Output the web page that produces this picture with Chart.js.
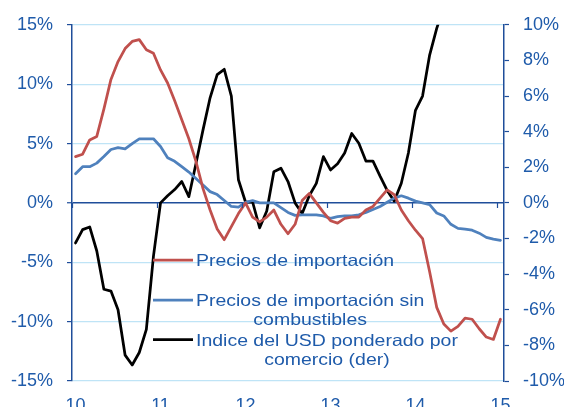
<!DOCTYPE html>
<html><head><meta charset="utf-8">
<script src="https://cdn.jsdelivr.net/npm/chart.js@4.4.0/dist/chart.umd.min.js"></script>
<style>html,body{margin:0;padding:0;background:#fff}#wrap{width:564px;height:407px;position:relative;overflow:hidden}</style>
</head><body><div id="wrap"><canvas id="c" width="564" height="407"></canvas></div>
<script>
const categories = [
 "ene-10","feb-10","mar-10","abr-10","may-10","jun-10","jul-10","ago-10","sep-10","oct-10","nov-10","dic-10",
 "ene-11","feb-11","mar-11","abr-11","may-11","jun-11","jul-11","ago-11","sep-11","oct-11","nov-11","dic-11",
 "ene-12","feb-12","mar-12","abr-12","may-12","jun-12","jul-12","ago-12","sep-12","oct-12","nov-12","dic-12",
 "ene-13","feb-13","mar-13","abr-13","may-13","jun-13","jul-13","ago-13","sep-13","oct-13","nov-13","dic-13",
 "ene-14","feb-14","mar-14","abr-14","may-14","jun-14","jul-14","ago-14","sep-14","oct-14","nov-14","dic-14",
 "ene-15"];
const yearLabels = ["10","11","12","13","14","15"];

const importPrices = [
 3.9, 4.1, 5.3, 5.6, 7.9, 10.4, 11.9, 13.0, 13.6, 13.75, 12.9, 12.6,
 11.2, 10.1, 8.6, 7.0, 5.4, 3.5, 1.2, -0.6, -2.2, -3.1, -2.0, -0.9,
 0.0, -1.2, -1.6, -1.2, -0.6, -1.8, -2.6, -1.8, 0.2, 0.8, 0.0, -0.8,
 -1.5, -1.7, -1.3, -1.2, -1.2, -0.6, -0.3, 0.4, 1.1, 0.7, -0.6, -1.5,
 -2.3, -3.0, -5.8, -8.8, -10.2, -10.8, -10.4, -9.7, -9.8, -10.6, -11.3, -11.5,
 -9.8];
const importPricesExFuel = [
 2.45, 3.05, 3.05, 3.35, 3.9, 4.5, 4.65, 4.55, 5.0, 5.4, 5.4, 5.4,
 4.75, 3.8, 3.5, 3.05, 2.6, 2.05, 1.5, 0.95, 0.7, 0.2, -0.3, -0.35,
 0.05, 0.2, 0.0, 0.0, 0.0, -0.4, -0.8, -1.05, -1.0, -1.0, -1.0, -1.1,
 -1.3, -1.15, -1.1, -1.1, -1.0, -0.8, -0.55, -0.3, 0.05, 0.4, 0.6, 0.4,
 0.15, 0.0, -0.15, -0.85, -1.1, -1.8, -2.15, -2.2, -2.3, -2.55, -2.9, -3.05,
 -3.15];
const usdIndex = [
 -2.25, -1.5, -1.35, -2.7, -4.85, -4.95, -6.0, -8.55, -9.1, -8.4, -7.1, -3.0,
 0.0, 0.4, 0.75, 1.2, 0.35, 2.2, 4.1, 5.9, 7.2, 7.5, 6.0, 1.3,
 0.05, 0.05, -1.4, -0.45, 1.75, 1.95, 1.2, 0.0, -0.6, 0.4, 1.1, 2.6,
 1.85, 2.2, 2.8, 3.9, 3.35, 2.35, 2.35, 1.5, 0.7, 0.1, 1.1, 2.8,
 5.2, 6.0, 8.3, 9.8, 11.0, 12.0, 12.8, 13.5, 14.0, 14.5, 15.0, 15.5,
 16.0];

const seriesNames = ["Precios de importación", "Precios de importación sin combustibles", "Indice del USD ponderado por comercio (der)"];
const legendLines = [["Precios de importación"], ["Precios de importación sin", "combustibles"], ["Indice del USD ponderado por", "comercio (der)"]];
const seriesColors = ["#C0504D", "#4F81BD", "#000000"];

const TEXT = '#1F5BAA';
const AXIS = '#1F4E9A';
const GRID = '#BFE4F6';
const FONT = '"Liberation Sans", Arial, sans-serif';

const yearTickPlugin = {
  id: 'yearTicks',
  afterDraw(chart) {
    const ctx = chart.ctx, xs = chart.scales.x, ys = chart.scales.y;
    const y0 = ys.getPixelForValue(0);
    const half = (xs.getPixelForValue(1) - xs.getPixelForValue(0)) / 2;
    ctx.save();
    ctx.strokeStyle = AXIS; ctx.lineWidth = 1.2;
    ctx.beginPath();
    categories.forEach((c, i) => {
      if (i % 12 === 0) {
        const x = Math.round(xs.getPixelForValue(i) - half) + 0.5;
        ctx.moveTo(x, y0); ctx.lineTo(x, y0 + 5);
      }
    });
    ctx.stroke();
    ctx.restore();
  }
};

const legendPlugin = {
  id: 'customLegend',
  afterDraw(chart) {
    const ctx = chart.ctx, a = chart.chartArea;
    const sampleX0 = a.left + 81, sampleX1 = a.left + 121, textLeft = a.left + 124;
    const sampleY = [260, 300, 339.5];
    const sx = 1.18, lineH = 19;
    ctx.save();
    ctx.font = '16.5px ' + FONT;
    ctx.textBaseline = 'middle';
    ctx.textAlign = 'center';
    legendLines.forEach((lines, k) => {
      const ds = chart.data.datasets[k];
      ctx.strokeStyle = ds.borderColor; ctx.lineWidth = 2.75; ctx.lineCap = 'butt';
      ctx.beginPath(); ctx.moveTo(sampleX0, sampleY[k]); ctx.lineTo(sampleX1, sampleY[k]); ctx.stroke();
      const maxW = Math.max(...lines.map(l => ctx.measureText(l).width * sx));
      const cx = textLeft + maxW / 2;
      ctx.fillStyle = TEXT;
      lines.forEach((l, j) => {
        ctx.save();
        ctx.translate(cx, sampleY[k] + 1.5 + j * lineH);
        ctx.scale(sx, 1);
        ctx.fillText(l, 0, 0);
        ctx.restore();
      });
    });
    ctx.restore();
  }
};

const tickFont = { family: FONT, size: 18 };

new Chart(document.getElementById('c'), {
  type: 'line',
  data: {
    labels: categories,
    datasets: [
      { label: seriesNames[0], data: importPrices, borderColor: seriesColors[0], yAxisID: 'y' },
      { label: seriesNames[1], data: importPricesExFuel, borderColor: seriesColors[1], yAxisID: 'y' },
      { label: seriesNames[2], data: usdIndex, borderColor: seriesColors[2], yAxisID: 'y1' }
    ]
  },
  options: {
    responsive: false, animation: false, devicePixelRatio: 1,
    layout: { padding: { top: 19, left: 0, right: 0, bottom: 0 } },
    elements: {
      point: { radius: 0, hoverRadius: 0 },
      line: { tension: 0, borderWidth: 2.75, borderJoinStyle: 'round', borderCapStyle: 'round', fill: false }
    },
    plugins: { legend: { display: false }, tooltip: { enabled: false } },
    scales: {
      x: {
        type: 'category', offset: true,
        grid: { display: false, drawTicks: false },
        border: { display: false },
        ticks: {
          autoSkip: false, maxRotation: 0, minRotation: 0, padding: 14,
          color: TEXT, font: tickFont,
          callback: (v, i) => (i % 12 === 0 ? yearLabels[i / 12] : '')
        },
        afterFit: s => { s.height = 26; }
      },
      y: {
        position: 'left', min: -15, max: 15,
        ticks: { stepSize: 5, padding: 14, color: TEXT, font: tickFont, callback: v => v + '%' },
        grid: {
          color: c => (c.tick && c.tick.value === 0 ? AXIS : GRID),
          lineWidth: c => (c.tick && c.tick.value === 0 ? 1.5 : 1.2),
          drawTicks: true, tickLength: 5, tickColor: AXIS, tickWidth: 1.2
        },
        border: { display: true, color: AXIS, width: 1.5 },
        afterFit: s => { s.width = 72; }
      },
      y1: {
        position: 'right', min: -10, max: 10,
        ticks: { stepSize: 2, padding: 14, color: TEXT, font: tickFont, callback: v => v + '%' },
        grid: { drawOnChartArea: false, drawTicks: true, tickLength: 5, tickColor: AXIS, tickWidth: 1.2 },
        border: { display: true, color: AXIS, width: 1.5 },
        afterFit: s => { s.width = 60; }
      }
    }
  },
  plugins: [yearTickPlugin, legendPlugin]
});
</script>
</body></html>
